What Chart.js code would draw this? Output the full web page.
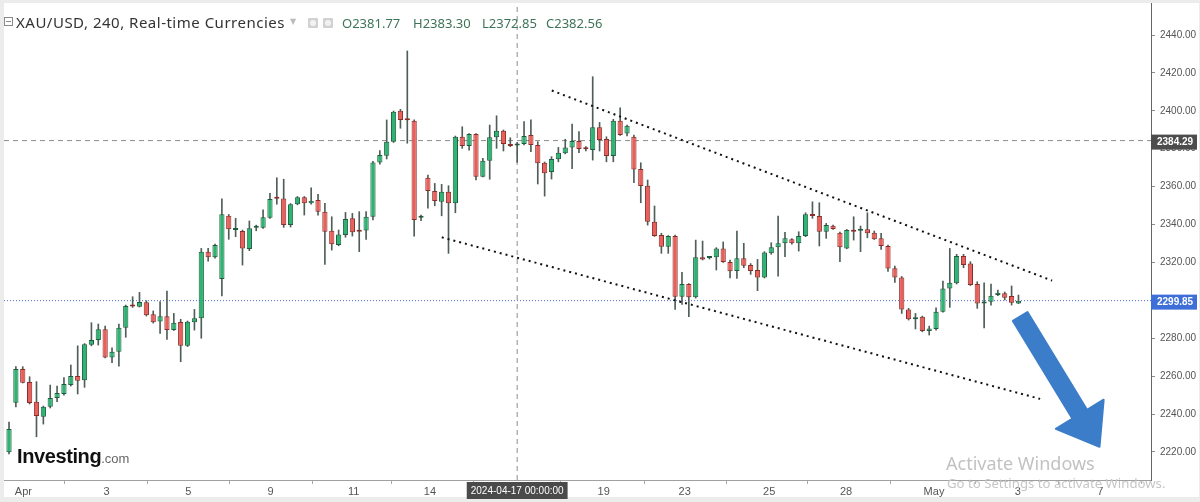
<!DOCTYPE html>
<html>
<head>
<meta charset="utf-8">
<script src="https://cdn.jsdelivr.net/npm/chart.js@4.4.1/dist/chart.umd.min.js"></script>
<style>
html,body{margin:0;padding:0;background:#ececec;}
#wrap{position:relative;width:1200px;height:502px;overflow:hidden;}
#c{position:absolute;left:0;top:0;}
.ov{position:absolute;white-space:nowrap;}
.hdr{font-family:'Noto Sans','Open Sans',sans-serif;line-height:18px;}
.val{color:#3d7358;font-size:13px;top:14px;}
.ico{top:18px;width:10px;height:10px;background:#d2d2d2;border-radius:1px;}
.ico i{position:absolute;left:2px;top:2px;width:6px;height:6px;border-radius:50%;background:#f2f2f2;}
</style>
</head>
<body>
<div id="wrap">
<canvas id="c" width="1200" height="502"></canvas>
<div class="ov" style="left:4px;top:17px;width:9px;height:9px;border:1px solid #8a8a8a;box-sizing:border-box;"><div style="position:absolute;left:1px;right:1px;top:3px;height:1px;background:#8a8a8a"></div></div>
<div class="ov hdr" style="left:16px;top:13px;font-size:15px;letter-spacing:0.5px;color:#333">XAU/USD, 240, Real-time Currencies</div>
<div class="ov" style="left:290px;top:17px;color:#bbb;font-size:8px;font-family:'DejaVu Sans'">▼</div>
<div class="ov ico" style="left:308px"><i></i></div>
<div class="ov ico" style="left:323px"><i></i></div>
<div class="ov hdr val" style="left:342px">O2381.77</div>
<div class="ov hdr val" style="left:413px">H2383.30</div>
<div class="ov hdr val" style="left:482px">L2372.85</div>
<div class="ov hdr val" style="left:546px">C2382.56</div>
<div class="ov" style="left:17px;top:445px;font-family:'Liberation Sans',Arial,sans-serif;"><span style="font-weight:bold;font-size:20px;letter-spacing:-0.4px;color:#111">Investing</span><span style="font-size:13px;color:#666">.com</span></div>
<div class="ov" style="left:946px;top:451px;font-family:'Noto Sans','Open Sans',sans-serif;font-size:18px;color:#c2c2c2;">Activate Windows</div>
<div class="ov" style="left:947px;top:474px;font-family:'Noto Sans','Open Sans',sans-serif;font-size:13.2px;color:#c6c6c6;">Go to Settings to activate Windows.</div>
</div>
<script>
// ---- data (XAU/USD 4h candles, Apr 1 - May 3 2024) ----
const opens = [2219.9,2246.0,2263.8,2256.9,2246.5,2238.6,2243.9,2248.5,2250.6,2255.3,2260.1,2257.9,2276.6,2279.1,2284.7,2269.9,2272.9,2285.5,2297.3,2296.6,2299.0,2292.6,2288.9,2291.6,2284.3,2288.6,2276.0,2288.4,2290.5,2325.7,2322.7,2311.2,2344.6,2337.1,2336.6,2327.1,2338.3,2338.3,2343.6,2354.0,2353.8,2339.7,2350.7,2354.4,2351.2,2352.9,2346.8,2336.7,2329.2,2334.5,2343.3,2337.1,2336.8,2344.1,2372.8,2376.3,2383.7,2400.1,2395.2,2394.8,2343.6,2364.7,2357.7,2352.0,2357.3,2351.2,2386.3,2381.4,2387.8,2365.2,2373.7,2386.0,2389.5,2382.3,2381.77,2382.5,2387.2,2382.0,2372.6,2367.7,2374.4,2377.6,2380.7,2384.1,2379.8,2379.3,2391.3,2385.1,2376.2,2394.8,2388.1,2386.3,2369.3,2360.5,2341.5,2334.5,2328.3,2333.9,2301.9,2308.6,2301.6,2322.7,2322.4,2322.7,2327.4,2320.2,2315.5,2322.2,2318.6,2316.0,2312.1,2324.8,2328.0,2330.1,2332.3,2330.1,2333.9,2345.4,2344.5,2336.2,2339.4,2335.7,2327.4,2337.1,2336.7,2337.5,2335.7,2332.7,2328.7,2316.9,2312.1,2295.2,2290.0,2291.4,2283.8,2284.9,2294.0,2306.3,2309.0,2323.4,2319.5,2308.6,2298.4,2299.3,2302.8,2303.7,2302.3,2298.4];
const highs = [2235.8,2265.0,2265.0,2259.7,2257.1,2244.2,2255.3,2254.8,2259.2,2265.9,2276.0,2277.2,2288.2,2287.5,2286.4,2275.0,2287.5,2297.5,2301.9,2304.2,2299.8,2294.4,2299.3,2304.9,2293.1,2290.0,2289.1,2295.2,2327.4,2327.4,2329.7,2353.5,2345.3,2343.3,2337.1,2341.9,2339.7,2347.7,2356.5,2364.7,2363.9,2351.1,2354.8,2354.8,2359.4,2355.9,2351.2,2344.1,2337.1,2346.4,2345.9,2346.8,2346.8,2373.3,2379.0,2395.2,2399.9,2400.8,2431.6,2395.2,2345.0,2366.1,2361.7,2361.2,2360.5,2386.7,2391.6,2388.0,2388.0,2374.9,2392.5,2397.4,2389.9,2385.8,2383.30,2394.3,2395.2,2383.7,2373.0,2375.8,2380.7,2385.0,2393.0,2389.0,2381.1,2418.0,2393.9,2386.3,2395.5,2401.6,2392.5,2387.2,2372.6,2363.5,2349.8,2335.4,2334.2,2334.5,2314.8,2308.9,2331.8,2331.3,2323.1,2327.8,2330.8,2321.3,2336.6,2330.1,2319.4,2321.6,2325.7,2330.4,2344.5,2335.9,2332.6,2336.2,2346.2,2352.0,2351.5,2340.6,2339.7,2336.0,2337.4,2344.1,2339.2,2346.2,2336.6,2335.4,2329.2,2318.1,2312.6,2295.8,2293.1,2291.7,2286.4,2296.1,2310.2,2327.4,2324.3,2324.3,2320.4,2309.8,2309.3,2308.6,2305.4,2304.4,2307.6,2302.8];
const lows = [2218.9,2243.7,2256.4,2245.3,2228.0,2234.7,2243.2,2246.5,2250.0,2254.8,2250.6,2254.1,2276.0,2276.4,2269.6,2267.1,2265.3,2280.5,2296.3,2296.5,2291.7,2288.0,2282.6,2279.4,2284.1,2267.6,2275.6,2284.3,2280.0,2320.7,2322.3,2302.4,2332.2,2333.6,2318.6,2326.2,2336.7,2337.9,2343.2,2350.7,2338.5,2338.7,2350.4,2345.0,2350.8,2345.0,2319.0,2326.5,2328.8,2333.3,2333.9,2325.7,2332.2,2342.4,2371.9,2374.6,2383.3,2390.8,2382.9,2333.9,2342.0,2348.6,2349.9,2344.6,2324.8,2346.2,2380.2,2379.3,2363.5,2365.1,2363.9,2380.2,2378.8,2381.1,2372.85,2382.0,2378.4,2361.4,2355.0,2364.0,2373.1,2377.3,2369.5,2377.9,2378.8,2374.0,2378.8,2373.1,2373.1,2387.0,2386.7,2362.1,2351.5,2339.7,2333.7,2324.8,2324.8,2295.2,2297.9,2291.4,2301.2,2321.3,2321.8,2316.0,2320.0,2311.8,2311.6,2317.2,2313.7,2305.1,2311.8,2324.3,2312.8,2323.0,2329.7,2326.0,2333.6,2343.3,2328.7,2332.7,2337.4,2320.4,2327.2,2331.8,2325.7,2333.0,2332.1,2326.9,2315.2,2309.4,2293.1,2289.6,2284.9,2283.4,2281.7,2284.3,2293.8,2296.3,2308.6,2317.2,2307.8,2295.8,2285.5,2297.5,2302.5,2300.2,2297.5,2298.2];
const closes = [2232.1,2263.8,2256.5,2245.8,2239.0,2243.9,2248.5,2251.1,2255.8,2260.1,2257.6,2276.8,2279.1,2284.7,2269.9,2272.9,2285.5,2297.0,2296.7,2299.1,2292.1,2288.4,2291.6,2284.3,2288.2,2276.0,2288.7,2290.5,2325.7,2322.7,2329.2,2345.4,2337.5,2337.4,2327.4,2338.0,2338.5,2343.8,2353.5,2353.6,2339.7,2350.7,2354.4,2351.2,2352.6,2346.8,2336.2,2329.6,2334.8,2342.9,2335.9,2336.2,2344.1,2372.8,2376.7,2383.7,2399.5,2395.2,2395.0,2342.4,2343.8,2357.7,2352.4,2357.3,2351.2,2386.3,2381.4,2387.8,2365.2,2373.7,2386.0,2389.5,2382.5,2381.4,2382.56,2386.7,2382.0,2372.3,2367.0,2374.6,2377.9,2380.7,2384.1,2379.8,2379.7,2391.3,2384.6,2376.2,2394.8,2387.2,2392.1,2369.1,2360.3,2341.5,2333.9,2328.3,2333.9,2301.9,2308.6,2301.6,2322.7,2321.6,2322.6,2327.4,2320.2,2315.3,2322.2,2318.3,2315.5,2312.1,2325.3,2328.0,2330.1,2332.7,2330.1,2333.9,2345.4,2344.5,2336.2,2339.7,2337.6,2328.0,2337.1,2336.2,2337.5,2335.4,2332.3,2328.7,2316.8,2312.1,2295.2,2290.0,2291.0,2283.8,2285.2,2294.0,2306.3,2309.3,2323.4,2318.6,2308.1,2298.4,2299.3,2302.4,2304.0,2301.4,2298.7,2299.85];
const xTickPos  = [2.1, 14.2, 26.1, 38.1, 50.2, 61.3, 74, 86.6, 98.4, 110.7, 121.9, 134.7, 146.9, 158.9];
const xTickText = ['Apr','3','5','9','11','14','2024-04-17 00:00:00','19','23','25','28','May','3','7'];
const yTicks = [2220,2240,2260,2280,2300,2320,2340,2360,2380,2400,2420,2440];
const yMin = 2205.2, yMax = 2456.9;
const xMin = -0.73, xMax = 166.3;
const crossIndex = 74;
const crossPrice = 2384.29;
const lastPrice = 2299.85;
const upperTrend = [{x:79.04, y:2410.7}, {x:151.9, y:2310.4}];
const lowerTrend = [{x:63.02, y:2333.25}, {x:150.16, y:2248.0}];
const arrowFrom = {x:147.25, y:2291.5};
const arrowTo   = {x:158.8,  y:2222.75};

// ---- build library structures ----
const up = opens.map((o, i) => closes[i] >= o);
const bodies = opens.map((o, i) => ({x: i, y: [o, closes[i]]}));
const wicks = opens.map((o, i) => ({x: i, y: [lows[i], highs[i]]}));

const FONT = "'Liberation Sans Narrow','Liberation Sans',Arial,sans-serif";
Chart.defaults.font.family = FONT;

const bgPlugin = {
  id: 'bg',
  beforeDraw(chart) {
    const c = chart.ctx;
    c.save();
    c.fillStyle = '#ececec';
    c.fillRect(0, 0, chart.width, chart.height);
    c.fillStyle = '#ffffff';
    c.fillRect(4, 3, chart.width - 5, chart.height - 8);
    c.restore();
  }
};

const arrowPlugin = {
  id: 'arrow',
  afterDatasetsDraw(chart) {
    const xs = chart.scales.x, ys = chart.scales.y, c = chart.ctx;
    const sx = xs.getPixelForValue(arrowFrom.x), sy = ys.getPixelForValue(arrowFrom.y);
    const tx = xs.getPixelForValue(arrowTo.x), ty = ys.getPixelForValue(arrowTo.y);
    const dx = tx - sx, dy = ty - sy, len = Math.hypot(dx, dy);
    const ux = dx / len, uy = dy / len, px = uy, py = -ux;
    const headLen = 38, headHalf = 28, shaftHalf = 8.5;
    const bx = tx - ux * headLen, by = ty - uy * headLen;
    c.save();
    c.beginPath();
    c.moveTo(sx + px * shaftHalf, sy + py * shaftHalf);
    c.lineTo(bx + px * shaftHalf, by + py * shaftHalf);
    c.lineTo(bx + px * headHalf, by + py * headHalf);
    c.lineTo(tx, ty);
    c.lineTo(bx - px * headHalf, by - py * headHalf);
    c.lineTo(bx - px * shaftHalf, by - py * shaftHalf);
    c.lineTo(sx - px * shaftHalf, sy - py * shaftHalf);
    c.closePath();
    c.fillStyle = '#3b7dc9';
    c.strokeStyle = '#3b7dc9';
    c.lineJoin = 'round';
    c.lineWidth = 2;
    c.fill();
    c.stroke();
    c.restore();
  }
};

const tagPlugin = {
  id: 'tags',
  afterDraw(chart) {
    const ys = chart.scales.y, c = chart.ctx, left = chart.chartArea.right;
    const tag = (val, bg) => {
      const py = ys.getPixelForValue(val) + 1.5;
      c.save();
      c.fillStyle = bg;
      c.fillRect(left, py - 7.5, 46, 15);
      c.fillStyle = '#ffffff';
      c.font = "bold 10px " + FONT;
      c.textBaseline = 'middle';
      c.textAlign = 'left';
      c.fillText(val.toFixed(2), left + 6, py + 0.5);
      c.restore();
    };
    tag(crossPrice, '#4d4d4d');
    tag(lastPrice, '#3e6fd8');
  }
};

new Chart(document.getElementById('c'), {
  type: 'bar',
  data: {
    datasets: [
      { type: 'line', data: upperTrend, borderColor: '#111', borderWidth: 2, borderDash: [2, 4], pointRadius: 0, order: 0 },
      { type: 'line', data: lowerTrend, borderColor: '#111', borderWidth: 2, borderDash: [2, 4], pointRadius: 0, order: 0 },
      { type: 'bar', data: bodies, backgroundColor: up.map(u => u ? '#2db472' : '#e9605b'),
        borderColor: up.map(u => u ? '#1f5c3e' : '#8a2d2a'), borderWidth: 1, borderSkipped: false,
        grouped: false, categoryPercentage: 1, barPercentage: 0.76, minBarLength: 2, order: 1 },
      { type: 'bar', data: wicks, backgroundColor: '#4f5f58', borderWidth: 0, grouped: false,
        categoryPercentage: 1, barPercentage: 1, maxBarThickness: 1, order: 2 },
      { type: 'line', data: [{x: xMin, y: crossPrice}, {x: xMax, y: crossPrice}], borderColor: '#8c8c8c', borderWidth: 1, borderDash: [5, 4], pointRadius: 0, order: 3 },
      { type: 'line', data: [{x: xMin, y: lastPrice}, {x: xMax, y: lastPrice}], borderColor: '#4d6fd6', borderWidth: 1, borderDash: [1, 2], pointRadius: 0, order: 3 },
      { type: 'line', data: [{x: crossIndex, y: yMin}, {x: crossIndex, y: yMax}], borderColor: '#8c8c8c', borderWidth: 1, borderDash: [5, 4], pointRadius: 0, order: 3 }
    ]
  },
  options: {
    responsive: false,
    animation: false,
    layout: { autoPadding: false, padding: { left: 4, top: 3, right: 0, bottom: 0 } },
    plugins: { legend: { display: false }, tooltip: { enabled: false } },
    scales: {
      x: {
        type: 'linear', min: xMin, max: xMax, offset: false,
        afterBuildTicks: s => { s.ticks = xTickPos.map(v => ({ value: v })); },
        afterFit: s => { s.height = 22; s.paddingLeft = 0; s.paddingRight = 0; s.paddingTop = 0; s.paddingBottom = 0; },
        grid: { drawOnChartArea: false, drawTicks: true, tickLength: 4, color: '#a8a8a8' },
        border: { display: true, color: '#a0a0a0' },
        ticks: {
          autoSkip: false, maxRotation: 0, padding: 1,
          font: c => ({ size: c.index === 6 ? 10 : 11 }),
          callback: (v, i) => xTickText[i],
          color: c => c.index === 6 ? '#ffffff' : '#555555',
          showLabelBackdrop: true,
          backdropColor: c => c.index === 6 ? '#4a4a4a' : 'rgba(0,0,0,0)',
          backdropPadding: { top: 3, bottom: 2, left: 4, right: 4 }
        }
      },
      y: {
        type: 'linear', position: 'right', min: yMin, max: yMax,
        afterBuildTicks: s => { s.ticks = yTicks.map(v => ({ value: v })); },
        afterFit: s => { s.width = 49; s.paddingTop = 0; s.paddingBottom = 0; s.paddingLeft = 0; s.paddingRight = 0; },
        grid: { drawOnChartArea: false, drawTicks: true, tickLength: 4, color: '#8a8a8a' },
        border: { display: true, color: '#666666' },
        ticks: { padding: 5, font: { size: 10 }, color: '#555555', callback: v => v.toFixed(2) }
      }
    }
  },
  plugins: [bgPlugin, arrowPlugin, tagPlugin]
});
</script>
</body>
</html>
